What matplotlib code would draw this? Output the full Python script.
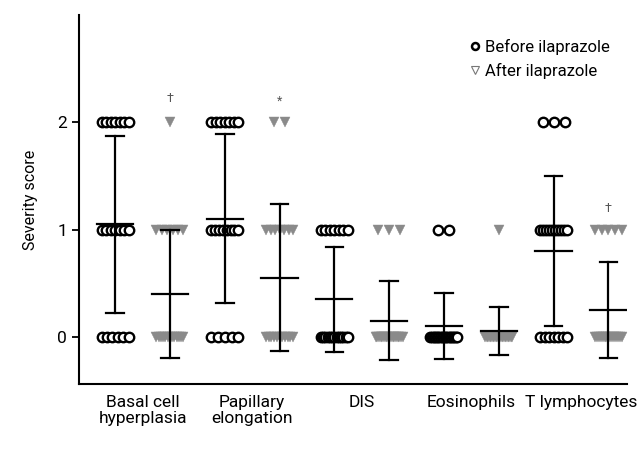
import numpy as np
import matplotlib
matplotlib.use("Agg")
import matplotlib.pyplot as plt
from matplotlib.lines import Line2D

plt.rcParams['font.family'] = ['Roboto', 'DejaVu Sans']

kategorije = ["Basal cell\nhyperplasia", "Papillary\nelongation", "DIS", "Eosinophils", "T lymphocytes"]
razine = [0, 1, 2]

# broj bolesnika po ocjeni (0, 1, 2)
prije = [[6, 7, 7], [5, 8, 7], [13, 7, 0], [18, 2, 0], [7, 10, 3]]
poslije = [[13, 6, 1], [11, 7, 2], [17, 3, 0], [19, 1, 0], [15, 5, 0]]

oznake = [(0, "\u2020", 2.22), (1, "*", 2.2), (4, "\u2020", 1.2)]

px = 109.5  # piksela po jedinici x osi


def pozicije(sredina, n):
    if n == 1:
        return np.array([sredina])
    razmak = min(11, 27 / (n - 1)) / px
    return sredina + (np.arange(n) - (n - 1) / 2) * razmak


def vrijednosti(brojevi):
    return np.repeat(razine, brojevi)


fig = plt.figure(figsize=(6.41, 4.49), dpi=100)
ax = fig.add_axes([79 / 641, 65 / 449, 548 / 641, 369 / 449])

for i in range(len(kategorije)):
    for skup, pomak, tip in [(prije, -0.25, "prije"), (poslije, 0.25, "poslije")]:
        x0 = i + pomak
        for razina, n in zip(razine, skup[i]):
            if n == 0:
                continue
            xs = pozicije(x0, n)
            ys = np.full(n, razina)
            if tip == "prije":
                ax.plot(xs, ys, 'o', ms=6.8, mfc='white', mec='black', mew=1.7,
                        ls='none', zorder=2)
            else:
                ax.plot(xs, ys, 'v', ms=7.5, mfc='#8a8a8a', mec='#8a8a8a', mew=0.3,
                        ls='none', zorder=2)
        v = vrijednosti(skup[i])
        sr = v.mean()
        sd = v.std(ddof=1)
        ax.plot([x0, x0], [sr - sd, sr + sd], color='black', lw=1.6, zorder=3)
        ax.plot([x0 - 0.08, x0 + 0.08], [sr + sd] * 2, color='black', lw=1.6, zorder=3)
        ax.plot([x0 - 0.08, x0 + 0.08], [sr - sd] * 2, color='black', lw=1.6, zorder=3)
        ax.plot([x0 - 0.165, x0 + 0.165], [sr] * 2, color='black', lw=1.6, zorder=3)

for i, znak, y in oznake:
    ax.text(i + 0.25, y, znak, ha='center', va='center', fontsize=9, color='#555555')

ax.set_xlim(-0.58, 4.42)
ax.set_ylim(-0.44, 3.0)
ax.set_yticks([0, 1, 2])
ax.set_xticks(range(len(kategorije)))
ax.set_xticklabels(kategorije, fontsize=12.5, linespacing=1.1)
ax.tick_params(axis='x', length=0, pad=8)
ax.tick_params(axis='y', length=5, width=1.3, labelsize=12.5)
ax.set_ylabel("Severity score", fontsize=11.5, labelpad=14)
for s in ['top', 'right']:
    ax.spines[s].set_visible(False)
for s in ['left', 'bottom']:
    ax.spines[s].set_linewidth(1.5)

rucke = [Line2D([], [], marker='o', ls='none', ms=5, mfc='white', mec='black', mew=1.8),
         Line2D([], [], marker='v', ls='none', ms=6, mfc='white', mec='#777777', mew=0.8)]
ax.legend(rucke, ["Before ilaprazole", "After ilaprazole"], loc='upper left',
          bbox_to_anchor=(0.68, 0.975), frameon=False, fontsize=12,
          handletextpad=0.1, handlelength=1.0, labelspacing=0.45)

fig.savefig("out.png", dpi=100)
